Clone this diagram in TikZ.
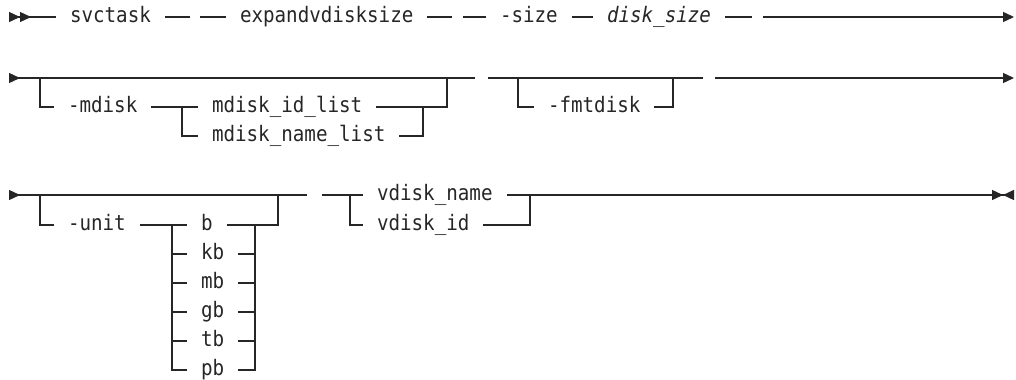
\documentclass[tikz,border=0pt]{standalone}
\usepackage{fontspec}
\newfontfamily\railfont[FakeStretch=0.9]{DejaVu Sans Mono}
\usetikzlibrary{arrows.meta}
\tikzset{
    rail/.style={
        x=0.75pt,y=-0.75pt,color=black!85,
        every path/.append style={line width=1pt},
        word/.append style={anchor=west,inner xsep=10pt,inner ysep=0pt,text height=11pt,text depth=2.3pt,font=\railfont\fontsize{16pt}{18pt}\selectfont},
        var/.append style={word,font=\railfont\itshape\fontsize{16pt}{18pt}\selectfont},
        railopen/.append style={{Triangle[reversed,length=8.25pt,width=7.5pt]}-},
        railopentwo/.append style={{Triangle[reversed,length=8.25pt,width=7.5pt]Triangle[reversed,length=8.25pt,width=7.5pt]}-},
        railnext/.append style={-{Triangle[length=8.25pt,width=7.5pt]}},
        railstop/.append style={-{Triangle[length=8.25pt,width=7.5pt]Triangle[reversed,length=8.25pt,width=7.5pt]}}
    }
}
\begin{document}
\begin{tikzpicture}[rail]
    \useasboundingbox (0,0) rectangle (1016,379);
    % first line
    \node[word] (svctask) at (56,17) {svctask};
    \node[word] (expand) at (226,17) {expandvdisksize};
    \node[word] (size) at (486,17) {-size};
    \node[var] (disksize) at (593,17) {disk\_size};
    \coordinate (s1) at (9,17);
    \coordinate (a1) at (190,17);
    \coordinate (a2) at (200,17);
    \coordinate (a3) at (452,17);
    \coordinate (a4) at (463,17);
    \coordinate (a5) at (752,17);
    \coordinate (a6) at (763,17);
    \coordinate (e1) at (1014,17);
    \draw[railopentwo] (s1) -- (svctask.west);
    \draw (svctask.east) -- (a1);
    \draw (a2) -- (expand.west);
    \draw (expand.east) -- (a3);
    \draw (a4) -- (size.west);
    \draw (size.east) -- (disksize.west);
    \draw (disksize.east) -- (a5);
    \draw[railnext] (a6) -- (e1);
    % second line
    \node[word] (mdisk) at (54,107) {-mdisk};
    \node[word] (mdiskid) at (198,107) {mdisk\_id\_list};
    \node[word] (mdiskname) at (198,136) {mdisk\_name\_list};
    \node[word] (fmtdisk) at (534,107) {-fmtdisk};
    \coordinate (s2) at (9,78);
    \coordinate (m1) at (40,78);
    \coordinate (jm) at (182,107);
    \coordinate (jr) at (423,107);
    \coordinate (m2) at (447,78);
    \coordinate (m3) at (475,78);
    \coordinate (f0) at (488,78);
    \coordinate (f1) at (518,78);
    \coordinate (f2) at (673,78);
    \coordinate (f3) at (703,78);
    \coordinate (f4) at (715,78);
    \coordinate (e2) at (1014,78);
    \draw[railopen] (s2) -- (m3);
    \draw (m1) |- (mdisk.west);
    \draw (mdisk.east) -- (jm) -- (mdiskid.west);
    \draw (jm) |- (mdiskname.west);
    \draw (mdiskid.east) -| (m2);
    \draw (mdiskname.east) -| (jr);
    \draw (f0) -- (f3);
    \draw (f1) |- (fmtdisk.west);
    \draw (fmtdisk.east) -| (f2);
    \draw[railnext] (f4) -- (e2);
    % third line
    \node[word] (unit) at (54,225) {-unit};
    \foreach \u/\y in {b/225,kb/254,mb/283,gb/312,tb/341,pb/370}
        \node[word] (\u) at (187,\y) {\u};
    \node[word] (vdiskname) at (363,195) {vdisk\_name};
    \node[word] (vdiskid) at (363,225) {vdisk\_id};
    \coordinate (s3) at (9,195);
    \coordinate (u1) at (40,195);
    \coordinate (ju) at (172,225);
    \coordinate (jr3) at (255,225);
    \coordinate (u2) at (278,195);
    \coordinate (u3) at (307,195);
    \coordinate (v0) at (322,195);
    \coordinate (v1) at (350,195);
    \coordinate (v2) at (530,195);
    \coordinate (e3) at (1014,195);
    \draw[railopen] (s3) -- (u3);
    \draw (u1) |- (unit.west);
    \draw (unit.east) -- (ju) -- (b.west);
    \draw (ju) |- (pb.west);
    \draw (b.east) -| (u2);
    \draw (pb.east) -| (jr3);
    \foreach \u in {kb,mb,gb,tb} {
        \draw (\u.west -| ju) -- (\u.west);
        \draw (\u.east) -- (\u.east -| jr3);
    }
    \draw (v0) -- (vdiskname.west);
    \draw (v1) |- (vdiskid.west);
    \draw (vdiskname.east) -| (v2);
    \draw (vdiskid.east) -| (v2);
    \draw[railstop] (v2) -- (e3);
\end{tikzpicture}
\end{document}
